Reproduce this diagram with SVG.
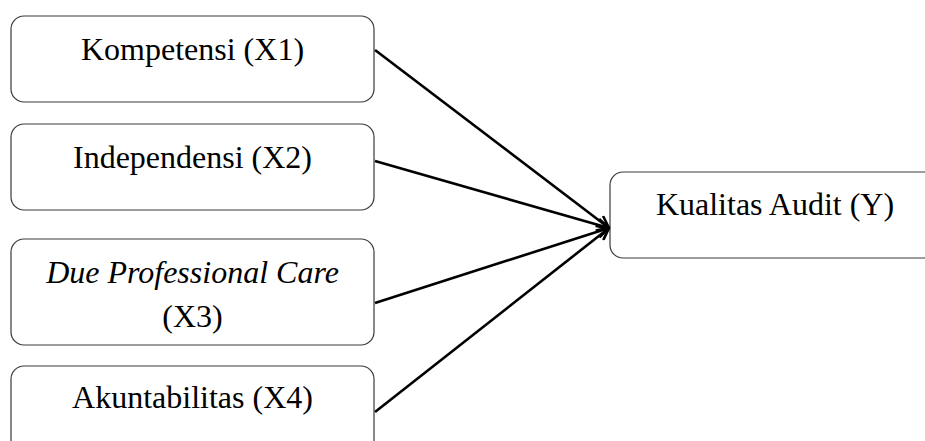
<svg xmlns="http://www.w3.org/2000/svg" width="925" height="441" viewBox="0 0 925 441">
<style>
.box{fill:#fff;stroke:#3a3a3a;stroke-width:1.2}
.t{font-family:"Liberation Serif","Times New Roman",serif;font-size:32px;fill:#000;text-anchor:middle}
.c{stroke:#000;stroke-width:2.6;fill:none}
</style>
<defs>
<marker id="ah" viewBox="0 0 14 14" refX="13" refY="7" markerWidth="14" markerHeight="14" markerUnits="userSpaceOnUse" orient="auto">
<path d="M1,1 L13,7 L1,13" fill="none" stroke="#000" stroke-width="2.6"/>
</marker>
</defs>
<rect width="925" height="441" fill="#fff"/>
<g id="x1"><rect class="box" x="11" y="16" width="363" height="86" rx="13"/><text class="t" x="192.5" y="60">Kompetensi (X1)</text></g>
<g id="x2"><rect class="box" x="11" y="124" width="363" height="86" rx="13"/><text class="t" x="192.5" y="168">Independensi (X2)</text></g>
<g id="x3"><rect class="box" x="11" y="239" width="363" height="106" rx="13"/><text class="t" x="192.5" y="283"><tspan font-style="italic">Due Professional Care</tspan></text><text class="t" x="192.5" y="326.5">(X3)</text></g>
<g id="x4"><rect class="box" x="11" y="366" width="363" height="100" rx="13"/><text class="t" x="192.5" y="408">Akuntabilitas (X4)</text></g>
<g id="y"><rect class="box" x="610" y="172" width="340" height="86" rx="13"/><text class="t" x="775" y="215">Kualitas Audit (Y)</text></g>
<g id="connectors">
<line class="c" x1="375" y1="50" x2="609" y2="228" marker-end="url(#ah)"/>
<line class="c" x1="375" y1="161" x2="609" y2="228" marker-end="url(#ah)"/>
<line class="c" x1="375" y1="303" x2="609" y2="228" marker-end="url(#ah)"/>
<line class="c" x1="375" y1="412" x2="609" y2="228" marker-end="url(#ah)"/>
</g>
</svg>
